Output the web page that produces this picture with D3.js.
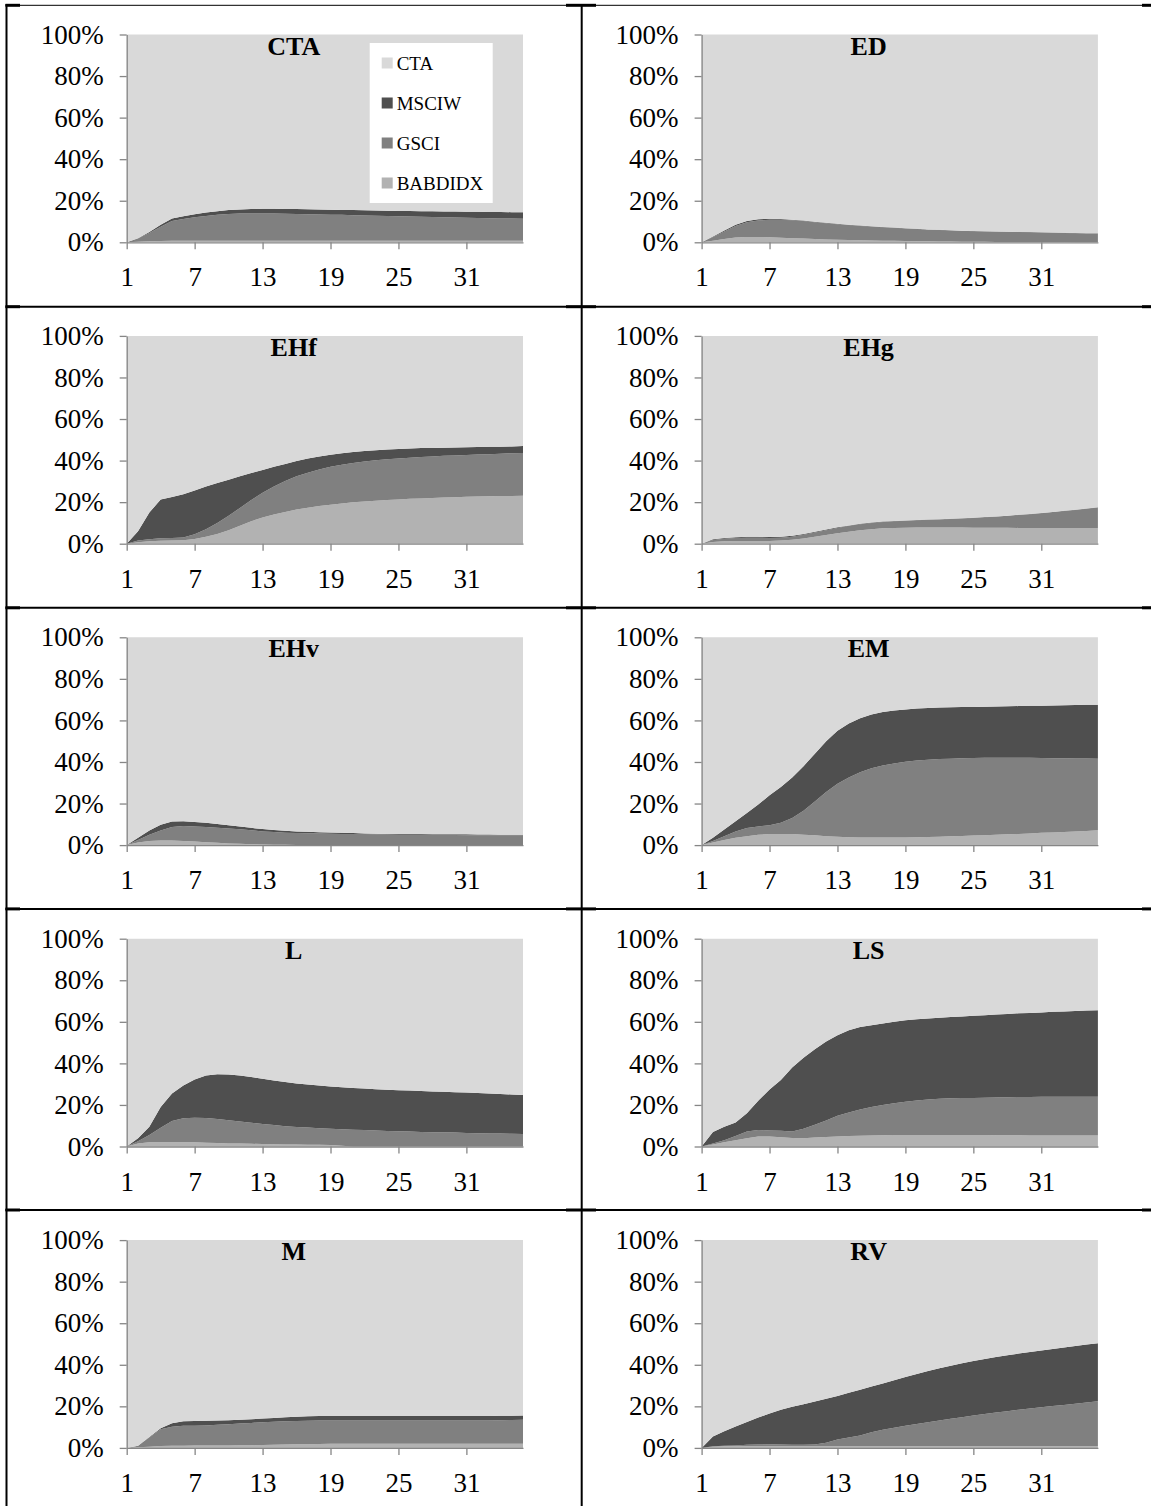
<!DOCTYPE html>
<html lang="en">
<head>
<meta charset="UTF-8">
<title>Stacked weights</title>
<script src="https://cdn.jsdelivr.net/npm/d3@7"></script>
<style>
  body { margin: 0; background: #fff; }
  svg text { font-family: "Liberation Serif", "Times New Roman", serif; }
</style>
</head>
<body>
<svg id="chart" width="1151" height="1506"></svg>
<script>
// categories and ticks
var months = d3.range(1, 37);
var xTicks = [1, 7, 13, 19, 25, 31];
var yTicks = [0, 20, 40, 60, 80, 100];
var seriesNames = ["CTA", "MSCIW", "GSCI", "BABDIDX"];
var panelNames = ["CTA", "ED", "EHf", "EHg", "EHv", "EM", "L", "LS", "M", "RV"];
var colors = { CTA: "#d9d9d9", MSCIW: "#4f4f4f", GSCI: "#808080", BABDIDX: "#b2b2b2" };

// weights in % per panel (CTA gets the remainder up to 100%)
var ctaBab   = [0,0.3,0.5,0.6,0.7,0.7,0.7,0.7,0.7,0.7,0.7,0.7,0.7,0.7,0.7,0.7,0.7,0.7,0.7,0.7,0.7,0.7,0.7,0.7,0.7,0.7,0.7,0.7,0.7,0.7,0.7,0.7,0.7,0.7,0.7,0.7];
var ctaGsci  = [0,1.5,4.0,6.9,9.5,10.5,11.3,11.9,12.5,12.9,13.1,13.2,13.2,13.1,13.0,12.9,12.8,12.7,12.6,12.5,12.3,12.2,12.1,11.9,11.8,11.7,11.6,11.5,11.3,11.2,11.1,11.0,10.9,10.8,10.7,10.6];
var ctaMsciw = [0,0.2,0.5,1.0,1.3,1.3,1.5,1.7,1.8,1.9,2.0,2.1,2.2,2.3,2.3,2.4,2.4,2.4,2.4,2.4,2.5,2.5,2.5,2.6,2.6,2.7,2.7,2.8,2.8,2.9,2.9,3.0,3.0,3.1,3.1,3.2];

var edBab   = [0,0.8,1.6,2.3,2.6,2.6,2.4,2.2,2.0,1.8,1.6,1.4,1.2,1.1,1.0,0.9,0.8,0.7,0.6,0.5,0.5,0.4,0.4,0.3,0.3,0.3,0.2,0.2,0.2,0.1,0.1,0.1,0.1,0,0,0];
var edGsci  = [0,1.7,3.6,5.5,7.0,7.9,8.4,8.6,8.6,8.4,8.1,7.8,7.5,7.2,6.9,6.7,6.5,6.3,6.1,5.9,5.6,5.5,5.3,5.2,5.0,4.9,4.9,4.8,4.7,4.7,4.6,4.5,4.4,4.4,4.3,4.3];
var edMsciw = [0,0.3,0.5,0.6,0.6,0.6,0.5,0.4,0.3,0.3,0.2,0.2,0.2,0.2,0.2,0.1,0.1,0.1,0.1,0.1,0.1,0.1,0.1,0.1,0.1,0.1,0.1,0.1,0.1,0.1,0.1,0.1,0.1,0.1,0.1,0.1];

var ehfBab   = [0,0.7,1.2,1.4,1.5,1.7,2.3,3.3,4.7,6.5,8.6,10.8,12.6,14.0,15.3,16.4,17.3,18.1,18.8,19.4,19.9,20.3,20.7,21.0,21.3,21.6,21.8,22.0,22.2,22.4,22.6,22.7,22.8,22.9,23.0,23.1];
var ehfGsci  = [0,0.8,1.0,1.2,1.3,1.3,2.3,3.7,5.3,7.0,8.6,10.2,11.9,13.5,14.9,16.1,16.9,17.6,18.2,18.6,18.9,19.2,19.4,19.6,19.7,19.8,19.9,20.0,20.1,20.1,20.1,20.2,20.3,20.4,20.5,20.6];
var ehfMsciw = [0,4.5,12.8,18.7,19.7,20.8,21.0,20.5,19.2,17.3,15.2,13.0,11.0,9.5,8.2,7.3,6.8,6.3,5.8,5.5,5.3,5.1,4.9,4.7,4.6,4.4,4.3,4.1,3.9,3.8,3.7,3.6,3.5,3.4,3.3,3.3];

var ehgBab   = [0,0.8,1.2,1.3,1.3,1.3,1.3,1.5,1.9,2.5,3.3,4.2,5.0,5.8,6.5,7.0,7.4,7.6,7.7,7.8,7.8,7.8,7.8,7.8,7.7,7.7,7.7,7.7,7.6,7.6,7.6,7.6,7.6,7.6,7.6,7.6];
var ehgGsci  = [0,1.0,1.2,1.4,1.6,1.6,1.5,1.4,1.5,1.8,2.1,2.3,2.6,2.8,2.9,3.0,3.1,3.2,3.4,3.5,3.7,3.9,4.1,4.3,4.7,5.0,5.3,5.7,6.2,6.6,7.1,7.6,8.1,8.6,9.2,9.8];
var ehgMsciw = [0,0.3,0.4,0.4,0.4,0.4,0.4,0.4,0.4,0.4,0.3,0.3,0.3,0.2,0.2,0.2,0.2,0.1,0.1,0.1,0.1,0.1,0.1,0.1,0.1,0.1,0.1,0.1,0.1,0.1,0.1,0.1,0.1,0.1,0.1,0.1];

var ehvBab   = [0,1.2,2.0,2.2,2.2,2.0,1.7,1.4,1.1,0.8,0.6,0.4,0.3,0.2,0.2,0.1,0.1,0.1,0.1,0.1,0.1,0.1,0.1,0.1,0.1,0.1,0.1,0.1,0.1,0.1,0.1,0.1,0.1,0.1,0.1,0.1];
var ehvGsci  = [0,1.3,3.0,4.8,6.5,7.2,7.3,7.3,7.3,7.2,7.0,6.7,6.3,6.1,5.8,5.7,5.6,5.5,5.4,5.3,5.2,5.2,5.1,5.0,4.9,4.9,4.9,4.8,4.8,4.8,4.7,4.7,4.7,4.7,4.7,4.7];
var ehvMsciw = [0,1.0,2.0,2.8,2.6,2.3,2.1,2.0,1.8,1.6,1.3,1.2,1.1,1.0,0.9,0.8,0.7,0.6,0.6,0.5,0.5,0.3,0.3,0.3,0.3,0.3,0.3,0.3,0.3,0.3,0.4,0.3,0.3,0.2,0.2,0.2];

var emBab   = [0,1.2,2.5,3.5,4.3,5.0,5.3,5.4,5.3,5.0,4.7,4.3,4.0,3.8,3.7,3.7,3.7,3.7,3.7,3.8,3.9,4.0,4.2,4.4,4.6,4.8,5.0,5.2,5.4,5.6,5.9,6.1,6.3,6.6,6.8,7.1];
var emGsci  = [0,0.8,1.7,3.0,3.9,4.0,4.2,5.3,7.7,11.5,16.3,21.2,25.5,28.7,31.3,33.3,34.6,35.6,36.4,36.9,37.2,37.4,37.4,37.4,37.3,37.2,37.0,36.8,36.6,36.4,36.0,35.7,35.5,35.1,34.9,34.5];
var emMsciw = [0,1.5,3.3,5.0,7.3,10.5,14.5,17.3,19.5,21.5,23.0,24.5,25.5,26.0,26.0,25.8,25.7,25.5,25.2,25.0,24.9,24.8,24.7,24.6,24.6,24.6,24.7,24.8,24.9,25.0,25.2,25.4,25.5,25.7,25.8,26.0];

var lBab   = [0,1.5,2.0,2.0,2.0,2.1,2.0,1.8,1.7,1.5,1.4,1.3,1.2,1.1,1.0,1.0,0.9,0.8,0.7,0.4,0,0,0,0,0,0,0,0,0,0,0,0,0,0,0,0];
var lGsci  = [0,1.0,3.5,7.0,10.3,11.5,11.8,11.9,11.5,11.1,10.6,10.1,9.6,9.2,8.8,8.4,8.2,8.0,7.8,7.9,8.1,7.9,7.7,7.5,7.3,7.2,7.0,6.9,6.8,6.7,6.5,6.4,6.3,6.2,6.1,6.0];
var lMsciw = [0,1.5,4.0,10.0,13.2,15.8,18.5,20.5,21.6,22.0,22.2,22.0,21.8,21.5,21.2,20.9,20.7,20.5,20.4,20.2,20.1,20.0,19.9,19.8,19.8,19.7,19.7,19.6,19.5,19.4,19.5,19.4,19.2,19.1,18.9,18.8];

var lsBab   = [0,1.0,2.0,3.0,4.0,4.8,4.8,4.5,4.1,4.0,4.3,4.6,4.8,5.0,5.2,5.3,5.4,5.5,5.5,5.5,5.5,5.5,5.5,5.5,5.5,5.5,5.4,5.4,5.4,5.3,5.3,5.3,5.3,5.3,5.3,5.3];
var lsGsci  = [0,0.5,1.0,2.0,3.2,3.2,2.9,3.1,3.1,4.5,6.2,7.9,10.0,11.4,12.6,13.7,14.6,15.3,16.0,16.6,17.1,17.5,17.7,17.8,17.9,18.0,18.2,18.3,18.4,18.5,18.6,18.6,18.6,18.6,18.6,18.6];
var lsMsciw = [0,5.5,6.5,6.6,8.8,14.0,19.7,24.4,30.8,34.2,36.3,38.0,38.7,39.6,39.7,39.4,39.2,39.2,39.2,39.1,39.0,39.0,39.1,39.3,39.5,39.7,39.9,40.1,40.3,40.5,40.6,40.9,41.1,41.3,41.5,41.7];

var mBab   = [0,0.3,0.6,0.9,1.0,1.0,1.1,1.1,1.2,1.2,1.3,1.3,1.4,1.5,1.6,1.7,1.8,1.9,2.0,2.0,2.0,2.0,2.0,2.0,2.0,2.0,2.0,2.0,2.0,2.0,2.0,2.0,2.0,2.0,2.0,2.0];
var mGsci  = [0,0.7,4.4,8.1,9.2,9.6,9.5,9.7,9.9,10.2,10.4,10.7,11.0,11.1,11.2,11.3,11.3,11.3,11.2,11.2,11.2,11.2,11.2,11.2,11.2,11.2,11.2,11.2,11.2,11.2,11.2,11.2,11.2,11.3,11.4,11.5];
var mMsciw = [0,0,0.2,0.5,1.7,2.2,2.4,2.3,2.1,1.9,1.8,1.8,1.7,1.8,1.9,2.0,2.1,2.1,2.2,2.2,2.2,2.2,2.2,2.2,2.2,2.2,2.2,2.2,2.2,2.2,2.2,2.2,2.2,2.2,2.1,2.1];

var rvBab   = [0,0.5,0.8,0.8,0.8,0.8,0.8,0.8,0.8,0.8,0.8,0.8,0.8,0.8,0.8,0.8,0.8,0.8,0.8,0.8,0.8,0.8,0.8,0.8,0.8,0.8,0.8,0.8,0.8,0.8,0.8,0.8,0.8,0.8,0.8,0.8];
var rvGsci  = [0,0.3,0.2,0.4,0.7,0.8,0.9,0.8,0.7,0.7,0.8,1.7,3.2,4.2,5.2,6.7,7.9,8.9,9.8,10.7,11.6,12.4,13.2,14.0,14.8,15.5,16.2,16.8,17.6,18.2,18.8,19.4,19.9,20.4,21.0,21.6];
var rvMsciw = [0,4.7,7.0,9.1,11.0,13.0,14.9,16.7,18.3,19.5,20.7,21.2,21.0,21.5,22.0,22.0,22.3,22.9,23.5,24.1,24.6,25.1,25.5,25.9,26.2,26.5,26.7,27.0,27.0,27.2,27.3,27.4,27.6,27.8,27.9,28.0];

var panelData = [
  [ctaBab, ctaGsci, ctaMsciw], [edBab, edGsci, edMsciw],
  [ehfBab, ehfGsci, ehfMsciw], [ehgBab, ehgGsci, ehgMsciw],
  [ehvBab, ehvGsci, ehvMsciw], [emBab, emGsci, emMsciw],
  [lBab, lGsci, lMsciw],       [lsBab, lsGsci, lsMsciw],
  [mBab, mGsci, mMsciw],       [rvBab, rvGsci, rvMsciw]
];

var svg = d3.select("#chart");
svg.append("rect").attr("width", 1151).attr("height", 1506).attr("fill", "#fff");

// layout of the table cells
var colLeft = [126.7, 701.6];
var rowTop = 34.5, rowStep = 301.4;
var plotW = 396.3, plotH = 207.8;

var x = d3.scaleLinear().domain([1, 36]).range([0, plotW]);
var y = d3.scaleLinear().domain([0, 100]).range([plotH, 0]);

var stack = d3.stack().keys(["BABDIDX", "GSCI", "MSCIW", "CTA"]);
var area = d3.area()
  .x(function(d) { return x(d.data.month); })
  .y0(function(d) { return y(d[0]); })
  .y1(function(d) { return y(d[1]); });

panelNames.forEach(function(name, i) {
  var col = i % 2, row = Math.floor(i / 2);
  var g = svg.append("g")
    .attr("transform", "translate(" + colLeft[col] + "," + (rowTop + row * rowStep) + ")");

  var s = panelData[i];
  var rows = months.map(function(m, k) {
    var r = { month: m, BABDIDX: s[0][k], GSCI: s[1][k], MSCIW: s[2][k] };
    r.CTA = 100 - r.BABDIDX - r.GSCI - r.MSCIW;
    return r;
  });

  g.selectAll("path.layer")
    .data(stack(rows))
    .enter().append("path")
    .attr("class", "layer")
    .attr("d", area)
    .attr("fill", function(d) { return colors[d.key]; });

  var yAxis = g.append("g")
    .call(d3.axisLeft(y).tickValues(yTicks).tickSize(7).tickSizeOuter(0).tickPadding(16)
      .tickFormat(function(d) { return d + "%"; }));
  var xAxis = g.append("g")
    .attr("transform", "translate(0," + plotH + ")")
    .call(d3.axisBottom(x).tickValues(xTicks).tickSize(7).tickSizeOuter(0).tickPadding(18));

  [yAxis, xAxis].forEach(function(ax) {
    ax.selectAll("path, line").attr("stroke", "#868686").attr("stroke-width", 1.3);
    ax.selectAll("text").attr("fill", "#000").style("font-size", "27px")
      .style("font-family", '"Liberation Serif", "Times New Roman", serif');
  });

  g.append("text")
    .attr("x", 167).attr("y", 20)
    .attr("text-anchor", "middle")
    .style("font-size", "26px").style("font-weight", "bold")
    .text(name);

  // legend only on the first panel
  if (i === 0) {
    var lg = g.append("g").attr("transform", "translate(243,8.5)");
    lg.append("rect").attr("width", 123).attr("height", 160).attr("fill", "#fff");
    seriesNames.forEach(function(sn, j) {
      lg.append("rect").attr("x", 12).attr("y", 14.5 + j * 40)
        .attr("width", 11).attr("height", 11).attr("fill", colors[sn]);
      lg.append("text").attr("x", 27).attr("y", 26.5 + j * 40)
        .style("font-size", "19px").text(sn);
    });
  }
});

// table rules
var lines = svg.append("g").attr("stroke", "#000");
[6.5, 581.7].forEach(function(vx) {
  lines.append("line").attr("x1", vx).attr("x2", vx).attr("y1", 4).attr("y2", 1506).attr("stroke-width", 2);
});
[5.3, 306.7, 607.8, 908.9, 1210].forEach(function(hy, k) {
  lines.append("line").attr("x1", 5.5).attr("x2", 1151).attr("y1", hy).attr("y2", hy)
    .attr("stroke-width", k === 0 ? 1 : 2);
  [[5.5, 20], [566, 596], [1142, 1151]].forEach(function(seg) {
    lines.append("line").attr("x1", seg[0]).attr("x2", seg[1]).attr("y1", hy).attr("y2", hy)
      .attr("stroke-width", 3);
  });
});
</script>
</body>
</html>
